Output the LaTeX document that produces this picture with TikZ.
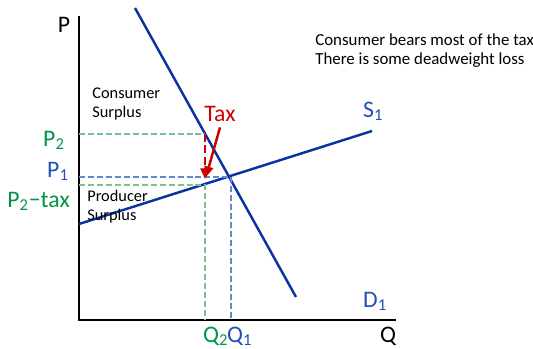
\documentclass[tikz,border=0pt]{standalone}
\usepackage{fontspec}
\setmainfont{Carlito}
\usetikzlibrary{arrows.meta}
\definecolor{curveblue}{RGB}{10,50,160}
\definecolor{labelblue}{RGB}{32,80,180}
\definecolor{labelgreen}{RGB}{0,150,70}
\definecolor{guidegreen}{RGB}{120,195,145}
\definecolor{guideblue}{RGB}{100,135,205}
\definecolor{taxred}{RGB}{204,0,0}
\begin{document}
\begin{tikzpicture}[x=0.02cm,y=-0.02cm,
  big/.style={font=\fontsize{13.5}{15}\selectfont},
  small/.style={font=\fontsize{9.3}{10.8}\selectfont, align=left, inner sep=0pt, anchor=north west},
  curve/.style={curveblue, line width=1.4pt},
  guide/.style={dash pattern=on 3.4pt off 1.7pt, line width=0.6pt},
  taxarrow/.style={taxred, line width=1.4pt, -{Triangle[length=6pt,width=5pt]}}]
\useasboundingbox (0,0) rectangle (533,348);
% axes
\coordinate (o) at (79,320);
\coordinate (ptop) at (79,16);
\coordinate (qend) at (396,320);
\draw[line width=1.4pt] (ptop) -- (o) -- (qend);
\node[big, anchor=base] (plab) at (64,33) {P};
\node[big, anchor=base] (qlab) at (388,342) {Q};
% demand and supply
\coordinate (dtop) at (135,8);
\coordinate (dbot) at (296,297);
\coordinate (sleft) at (79,224);
\coordinate (sright) at (372,131);
\draw[curve] (dtop) -- (dbot);
\draw[curve] (sleft) -- (sright);
\node[big, labelblue, anchor=base west] (slab) at (357,117) {S\textsubscript{1}};
\node[big, labelblue, anchor=base west] (dlab) at (357,307) {D\textsubscript{1}};
% equilibria
\coordinate (e1) at (231,177);
\coordinate (e2) at (205,134);
\coordinate (e2s) at (205,185);
\draw[guide, guideblue] (ptop |- e1) -- (e1) -- (e1 |- o);
\draw[guide, guidegreen] (ptop |- e2) -- (e2);
\draw[guide, guidegreen] (ptop |- e2s) -- (e2s) -- (e2s |- o);
\node[big, labelgreen, anchor=base east] (p2) at (71,146) {P\textsubscript{2}};
\node[big, labelblue, anchor=base east] (p1) at (75,177) {P\textsubscript{1}};
\node[big, labelgreen, anchor=base east] (p2tax) at (76,207) {P\textsubscript{2}−tax};
\node[big, labelgreen, anchor=base west] (q2) at (197,342) {Q\textsubscript{2}};
\node[big, labelblue, anchor=base west] (q1) at (221,342) {Q\textsubscript{1}};
% tax wedge
\coordinate (wedgetip) at (205,179);
\coordinate (taxtip) at (206,177);
\draw[taxarrow, line width=1.7pt, dash pattern=on 4.5pt off 2pt] (e2) -- (wedgetip);
\node[big, taxred, anchor=base] (tax) at (220,121) {Tax};
\draw[taxarrow] (tax.south) -- (taxtip);
% surplus and notes
\node[small] (cs) at (92,88) {Consumer\\Surplus};
\node[small] (ps) at (87,190) {Producer\\Surplus};
\node[small, font=\fontsize{9.6}{11.3}\selectfont] (note) at (315,33) {Consumer bears most of the tax\\There is some deadweight loss};
\end{tikzpicture}
\end{document}
